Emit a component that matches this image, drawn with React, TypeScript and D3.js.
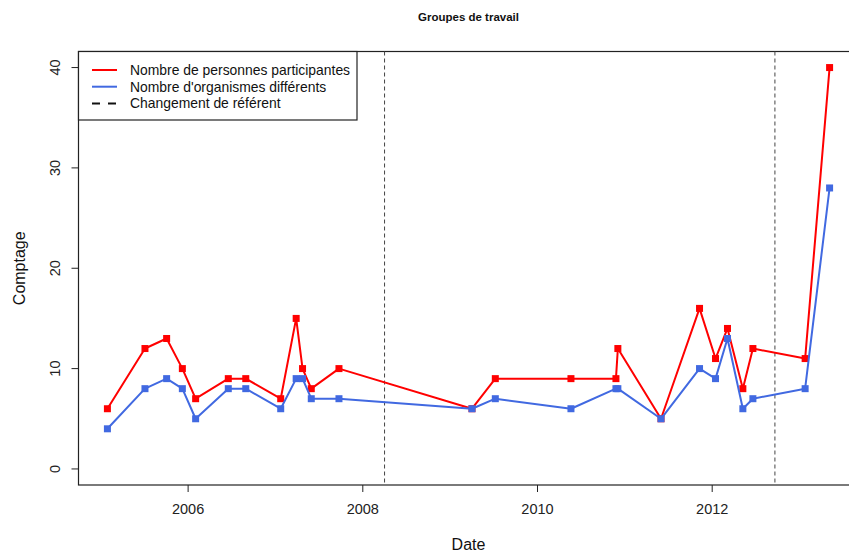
import React from "react";
import * as d3 from "d3";

// decimal-year dates of each meeting
const dates = [2005.076, 2005.506, 2005.754, 2005.934, 2006.086, 2006.46, 2006.66, 2007.06, 2007.237, 2007.31, 2007.41, 2007.727, 2009.25, 2009.517, 2010.383, 2010.898, 2010.92, 2011.414, 2011.855, 2012.038, 2012.175, 2012.351, 2012.466, 2013.064, 2013.344];
const personnes = [6, 12, 13, 10, 7, 9, 9, 7, 15, 10, 8, 10, 6, 9, 9, 9, 12, 5, 16, 11, 14, 8, 12, 11, 40];
const organismes = [4, 8, 9, 8, 5, 8, 8, 6, 9, 9, 7, 7, 6, 7, 6, 8, 8, 5, 10, 9, 13, 6, 7, 8, 28];
const changements = [2008.249, 2012.718];
const xTicks = [2006, 2008, 2010, 2012];
const yTicks = [0, 10, 20, 30, 40];
const legendLabels = ["Nombre de personnes participantes", "Nombre d'organismes différents", "Changement de référent"];

const W = 849, H = 552;
const FONT = "'Liberation Sans', Arial, sans-serif";

export default function App() {
  const x = d3.scaleLinear().domain([2004.745, 2013.675]).range([78.5, 858.5]);
  const y = d3.scaleLinear().domain([-1.6, 41.6]).range([485, 51.5]);
  const line = d3.line<number>().x((_, i) => x(dates[i])).y((v) => y(v));
  const series = [
    { vals: personnes, color: "#FF0000" },
    { vals: organismes, color: "#4169E1" },
  ];
  const sq = 7;
  const left = x.range()[0], right = x.range()[1];
  const top = y.range()[1], bottom = y.range()[0];
  return (
    <svg width={W} height={H} style={{ position: "absolute", left: 0, top: 0, background: "#fff" }} fontFamily={FONT}>
      <rect width={W} height={H} fill="#fff" />
      <text x={(left + right) / 2} y={21} textAnchor="middle" fontSize={11.5} fontWeight="bold" fill="#111">Groupes de travail</text>
      {/* box */}
      <rect x={left} y={top} width={right - left} height={bottom - top} fill="none" stroke="#222" strokeWidth={1.2} />
      {/* change lines */}
      {changements.map((c, i) => (
        <line key={i} x1={x(c)} x2={x(c)} y1={top} y2={bottom} stroke="#444" strokeWidth={1} strokeDasharray="4,3" />
      ))}
      {series.map((s, k) => (
        <g key={k}>
          <path d={line(s.vals) || ""} fill="none" stroke={s.color} strokeWidth={2} strokeLinejoin="round" />
          {s.vals.map((v, i) => (
            <rect key={i} x={x(dates[i]) - sq / 2} y={y(v) - sq / 2} width={sq} height={sq} fill={s.color} />
          ))}
        </g>
      ))}
      {/* x axis */}
      {xTicks.map((t) => (
        <g key={t}>
          <line x1={x(t)} x2={x(t)} y1={bottom} y2={bottom + 7} stroke="#222" />
          <text x={x(t)} y={514} textAnchor="middle" fontSize={14.5} fill="#222">{t}</text>
        </g>
      ))}
      {yTicks.map((t) => (
        <g key={t}>
          <line x1={left - 7} x2={left} y1={y(t)} y2={y(t)} stroke="#222" />
          <text transform={`translate(59.5,${y(t)}) rotate(-90)`} textAnchor="middle" fontSize={14.5} fill="#222">{t}</text>
        </g>
      ))}
      <text x={(left + right) / 2} y={549.5} textAnchor="middle" fontSize={16} fill="#111">Date</text>
      <text transform={`translate(25,${(top + bottom) / 2}) rotate(-90)`} textAnchor="middle" fontSize={16} fill="#111">Comptage</text>
      {/* legend */}
      <g>
        <rect x={left} y={top} width={357 - left} height={120 - top} fill="#fff" stroke="#222" strokeWidth={1.2} />
        {legendLabels.map((lab, i) => {
          const ly = 70 + i * 16.7;
          return (
            <g key={i}>
              {i < 2 ? (
                <line x1={92} x2={117} y1={ly} y2={ly} stroke={series[i].color} strokeWidth={2} />
              ) : (
                <line x1={92} x2={117} y1={ly} y2={ly} stroke="#111" strokeWidth={2} strokeDasharray="8,8" />
              )}
              <text x={130} y={ly + 5} fontSize={13.9} fill="#111">{lab}</text>
            </g>
          );
        })}
      </g>
    </svg>
  );
}
